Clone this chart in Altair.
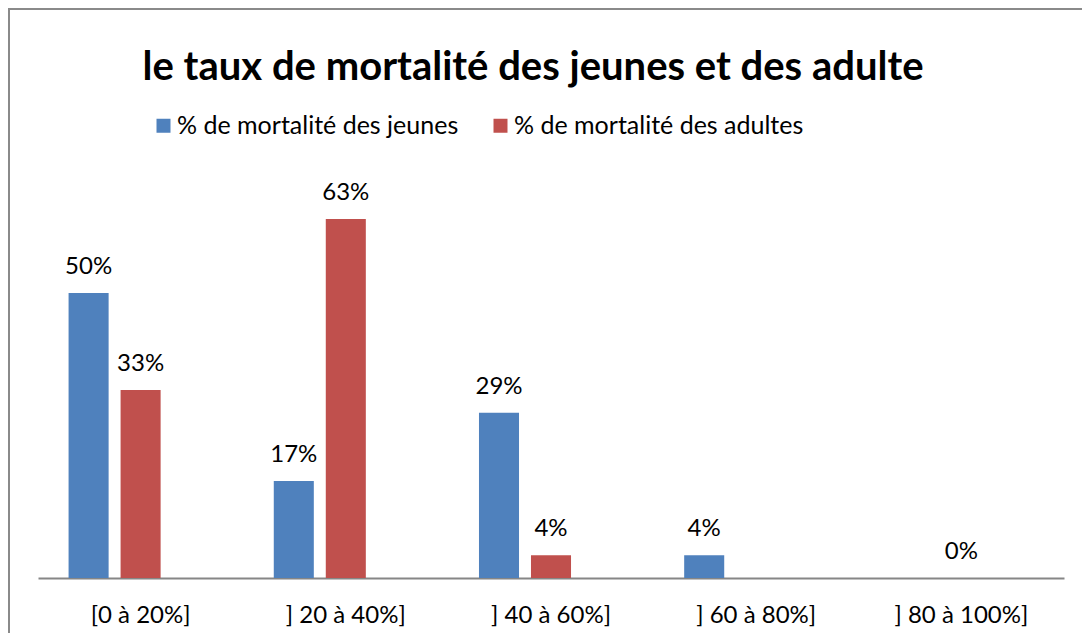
import altair as alt
import pandas as pd

categories = ["[0 à 20%]", "] 20 à 40%]", "] 40 à 60%]", "] 60 à 80%]", "] 80 à 100%]"]
series_names = ["% de mortalité des jeunes", "% de mortalité des adultes"]
jeunes = [50, 17, 29, 4, None]
adultes = [33, 63, 4, None, 0]
colors = ["#4F81BD", "#C0504D"]
offset_domain = series_names + ["(vide)"]
title_text = "le taux de mortalité des jeunes et des adulte"

rows = []
for cat, j, a in zip(categories, jeunes, adultes):
    if j is not None:
        rows.append({"cat": cat, "serie": series_names[0], "val": j, "label": f"{j}%"})
    if a is not None:
        rows.append({"cat": cat, "serie": series_names[1], "val": a, "label": f"{a}%"})
df = pd.DataFrame(rows)

W, H = 1026, 399
FONT = "Lato"

x = alt.X(
    "cat:N",
    sort=categories,
    scale=alt.Scale(paddingInner=0, paddingOuter=0),
    axis=alt.Axis(
        title=None, ticks=False, domainColor="#868686", domainWidth=2,
        labelFont=FONT, labelFontSize=24, labelColor="#000000",
        labelPadding=44, labelBaseline="alphabetic", labelAngle=0,
    ),
)
xo = alt.XOffset(
    "serie:N",
    scale=alt.Scale(domain=offset_domain, paddingInner=0.23, paddingOuter=0.588),
)
y = alt.Y("val:Q", scale=alt.Scale(domain=[0, 70]), axis=None)
color = alt.Color(
    "serie:N",
    scale=alt.Scale(domain=series_names, range=colors),
    legend=alt.Legend(
        title=None, orient="none", direction="horizontal",
        legendX=113, legendY=-66, padding=0,
        symbolType="square", symbolSize=196, symbolStrokeWidth=0,
        symbolOpacity=1, labelFont=FONT, labelFontSize=25,
        labelColor="#000000", labelOffset=1, columnPadding=29,
        labelLimit=400,
    ),
)

bars = alt.Chart(df).mark_bar().encode(x=x, xOffset=xo, y=y, color=color)
labels = alt.Chart(df).mark_text(
    dy=-19, baseline="alphabetic", font=FONT, fontSize=24, color="#000000"
).encode(x=x, xOffset=xo, y=y, text="label:N")

frame_left = alt.Chart(alt.Data(values=[{}])).mark_rule(
    color="#8a8a8a", strokeWidth=2
).encode(x=alt.value(-29), y=alt.value(-170), y2=alt.value(H + 60))
frame_top = alt.Chart(alt.Data(values=[{}])).mark_rule(
    color="#8a8a8a", strokeWidth=2
).encode(x=alt.value(-30), x2=alt.value(W + 40), y=alt.value(-170))

chart = alt.layer(bars, labels, frame_left, frame_top).properties(
    width=W, height=H,
    title=alt.Title(
        title_text, font=FONT, fontSize=40, fontWeight="bold", color="#000000",
        anchor="middle", frame="group", dx=-18, dy=112, offset=0, baseline="alphabetic",
    ),
    autosize=alt.AutoSizeParams(type="none"),
    padding={"left": 30, "top": 171, "right": 18, "bottom": 55},
).configure_view(stroke=None)

chart.save("out.html", embed_options={"renderer": "svg", "actions": False})
